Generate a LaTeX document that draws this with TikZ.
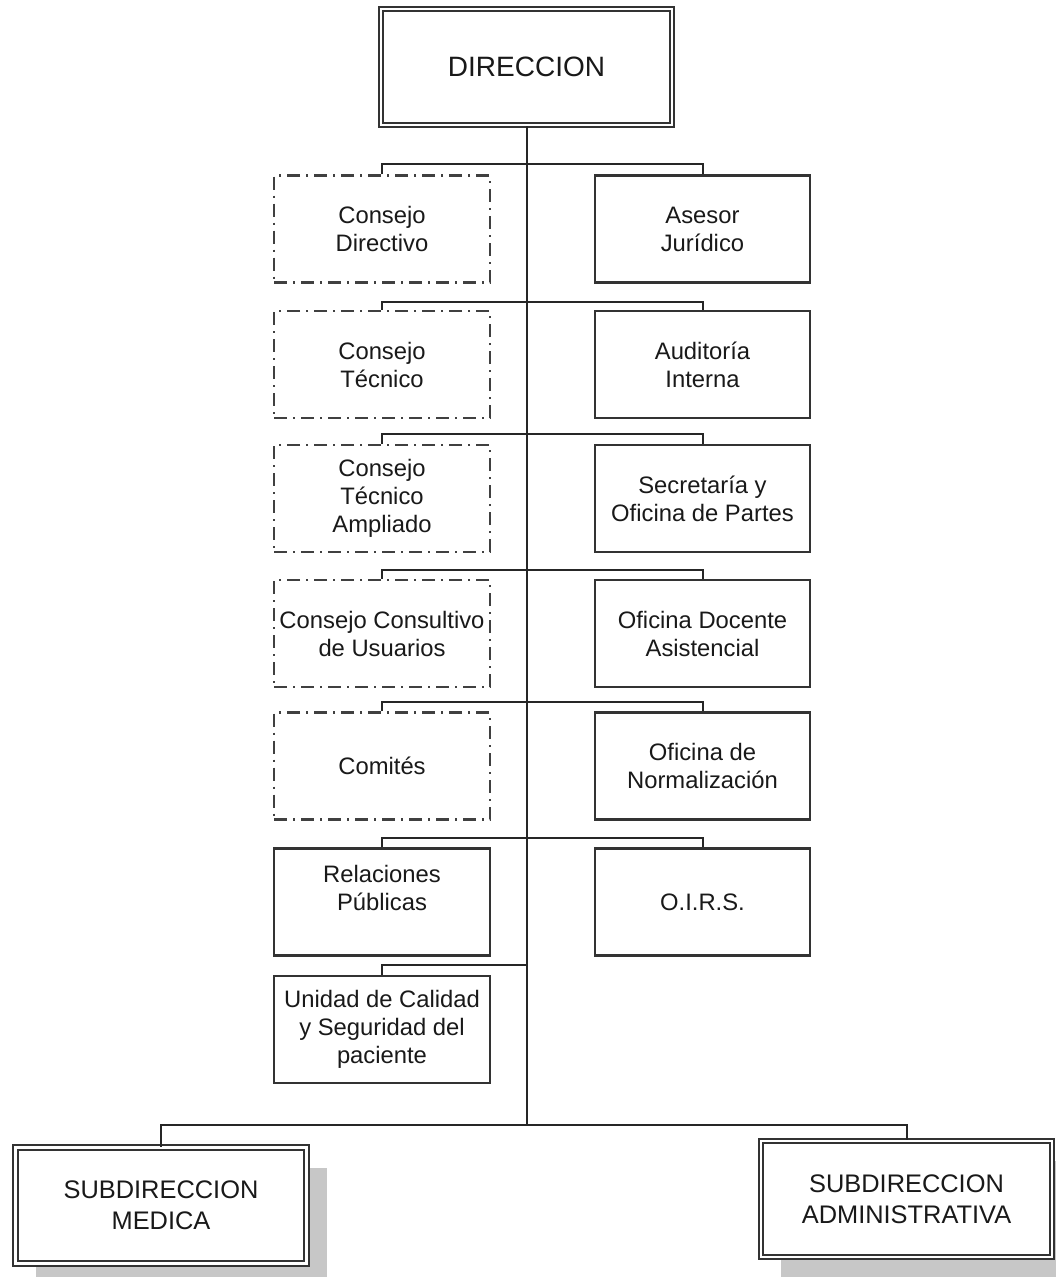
\documentclass[tikz,border=0pt]{standalone}
\usepackage{fontspec}
\setmainfont{Liberation Sans}
\usetikzlibrary{shadows}

\begin{document}
\begin{tikzpicture}[x=1pt,y=-1pt,
    caja/.style={draw=black!80, line width=2.2pt, fill=white,
        minimum width=216pt, minimum height=107pt, inner sep=0pt,
        align=center, text=black!90, font=\fontsize{23.8}{28}\selectfont},
    cajader/.style={caja, minimum width=215pt},
    consejo/.style={caja, draw=black!75, dash pattern=on 13pt off 6pt on 2pt off 6pt},
    cajadoble/.style={draw=black!80, line width=2pt, double=white, double distance=2.4pt,
        fill=white, minimum width=291pt, minimum height=116pt, inner sep=0pt,
        align=center, text=black!90},
    sombra/.style={drop shadow={shadow xshift=20pt, shadow yshift=-20pt, fill=black!22, opacity=1}},
    linea/.style={draw=black!85, line width=2pt}]
    \useasboundingbox (0,0) rectangle (1056,1277);
    \clip (0,0) rectangle (1056,1277);

    % Top box
    \node[cajadoble, font=\fontsize{28}{34}\selectfont] (dir) at (526.5,67) {DIRECCION};

    % Rows: consejos on the left, offices on the right
    \foreach \n/\yc/\yt/\izq/\der in {
        1/229/164/{Consejo\\Directivo}/{Asesor\\Jurídico},
        2/364.5/302/{Consejo\\Técnico}/{Auditoría\\Interna},
        3/498.5/434/{Consejo\\Técnico\\Ampliado}/{Secretaría y\\Oficina de Partes},
        4/633.5/570/{Consejo Consultivo\\de Usuarios}/{Oficina Docente\\Asistencial},
        5/766/702/{Comités}/{Oficina de\\Normalización}} {
        \node[consejo] (izq\n) at (382,\yc) {\izq};
        \node[cajader] (der\n) at (702.5,\yc) {\der};
        \coordinate (t\n) at (526.5,\yt);
        \draw[linea] (izq\n.north) |- (t\n) -| (der\n.north);
    }

    % Row 6
    \node[caja] (rrpp) at (382,902) {Relaciones\\Públicas\\~};
    \node[cajader] (oirs) at (702.5,902) {O.I.R.S.};
    \coordinate (t6) at (526.5,838);
    \draw[linea] (rrpp.north) |- (t6) -| (oirs.north);

    % Row 7
    \node[caja] (ucal) at (382,1029.5) {Unidad de Calidad\\y Seguridad del\\paciente};
    \coordinate (t7) at (526.5,965);
    \draw[linea] (ucal.north) |- (t7);

    % Trunk
    \coordinate (tb) at (526.5,1125);
    \draw[linea] (dir.south) -- (tb);

    % Subdirecciones
    \node[cajadoble, sombra, font=\fontsize{25.4}{31}\selectfont] (smed) at (161,1205.5) {SUBDIRECCION\\MEDICA};
    \node[cajadoble, sombra, font=\fontsize{25.4}{31}\selectfont] (sadm) at (906.5,1199) {SUBDIRECCION\\ADMINISTRATIVA};
    \draw[linea] (smed.north) |- (tb) -| (sadm.north);
\end{tikzpicture}
\end{document}
